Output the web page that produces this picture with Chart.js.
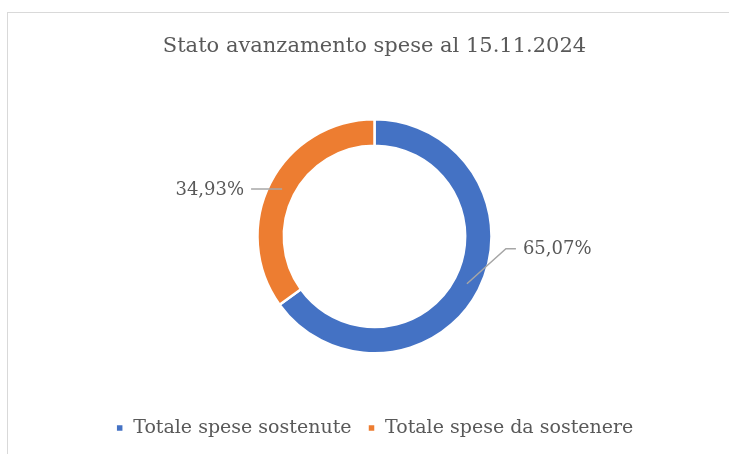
<!DOCTYPE html>
<html>
<head>
<meta charset="utf-8">
<script src="https://cdn.jsdelivr.net/npm/chart.js@4.4.1/dist/chart.umd.min.js"></script>
<style>
  html, body { margin: 0; padding: 0; background: #fff; }
  body { width: 729px; height: 454px; position: relative; overflow: hidden; }
  .frame {
    position: absolute; left: 7px; top: 12px; width: 800px; height: 500px;
    border-top: 1px solid #d9d9d9; border-left: 1px solid #d9d9d9;
  }
  .wrap { position: absolute; left: 0; top: 0; width: 729px; height: 454px; }
</style>
</head>
<body>
<div class="frame"></div>
<div class="wrap"><canvas id="chart-spese"></canvas></div>
<script>
// dati
const categories = ["Totale spese sostenute", "Totale spese da sostenere"];
const percentages = [65.07, 34.93];
const sliceColors = ["#4472C4", "#ED7D31"];
const chartTitle = "Stato avanzamento spese al 15.11.2024";

const FONT = "'DejaVu Serif', 'Liberation Serif', serif";
const TEXT_COLOR = "#595959";

// etichette con linee guida (offset dal centro dell'anello)
const leaderOffsets = [
  { dx: 39, dy: -35, tail: 10 },  // sostenute -> a destra
  { dx: -31, dy: 0, tail: 0 },    // da sostenere -> a sinistra
];

const leaderLabelPlugin = {
  id: "leaderLabels",
  afterDatasetsDraw(chart) {
    const { ctx } = chart;
    const meta = chart.getDatasetMeta(0);
    meta.data.forEach((arc, i) => {
      const p = arc.getProps(["x", "y", "startAngle", "endAngle", "innerRadius", "outerRadius"], true);
      const mid = (p.startAngle + p.endAngle) / 2;
      const r = (p.innerRadius + p.outerRadius) / 2;
      const ax = p.x + Math.cos(mid) * r;
      const ay = p.y + Math.sin(mid) * r;
      const off = leaderOffsets[i];
      const side = Math.cos(mid) >= 0 ? 1 : -1;
      const ex = ax + off.dx;
      const ey = ay + off.dy;
      const tx = ex + side * off.tail;

      ctx.save();
      ctx.strokeStyle = "#A6A6A6";
      ctx.lineWidth = 1.5;
      ctx.beginPath();
      ctx.moveTo(ax, ay);
      ctx.lineTo(ex, ey);
      ctx.lineTo(tx, ey);
      ctx.stroke();

      const text = percentages[i].toFixed(2).replace(".", ",") + "%";
      ctx.font = "18px " + FONT;
      ctx.fillStyle = TEXT_COLOR;
      ctx.textBaseline = "middle";
      ctx.textAlign = side > 0 ? "left" : "right";
      ctx.fillText(text, tx + side * 7, ey + 1);
      ctx.restore();
    });
  },
};

new Chart(document.getElementById("chart-spese"), {
  type: "doughnut",
  data: {
    labels: categories,
    datasets: [
      {
        data: percentages,
        backgroundColor: sliceColors,
        borderColor: "#ffffff",
        borderWidth: 2.5,
      },
    ],
  },
  options: {
    responsive: true,
    maintainAspectRatio: false,
    animation: false,
    events: [],
    radius: 117,
    cutout: "77.5%",
    layout: { padding: { left: 20, right: 0, top: 0, bottom: 6.5 } },
    plugins: {
      title: {
        display: true,
        text: chartTitle,
        color: TEXT_COLOR,
        font: { family: FONT, size: 21, weight: "normal" },
        padding: { top: 34, bottom: 11 },
      },
      legend: {
        position: "bottom",
        labels: {
          usePointStyle: true,
          pointStyle: "rect",
          boxHeight: 8,
          boxWidth: 8,
          padding: 16,
          color: TEXT_COLOR,
          font: { family: FONT, size: 19 },
        },
      },
      tooltip: { enabled: false },
    },
  },
  plugins: [leaderLabelPlugin],
});
</script>
</body>
</html>
